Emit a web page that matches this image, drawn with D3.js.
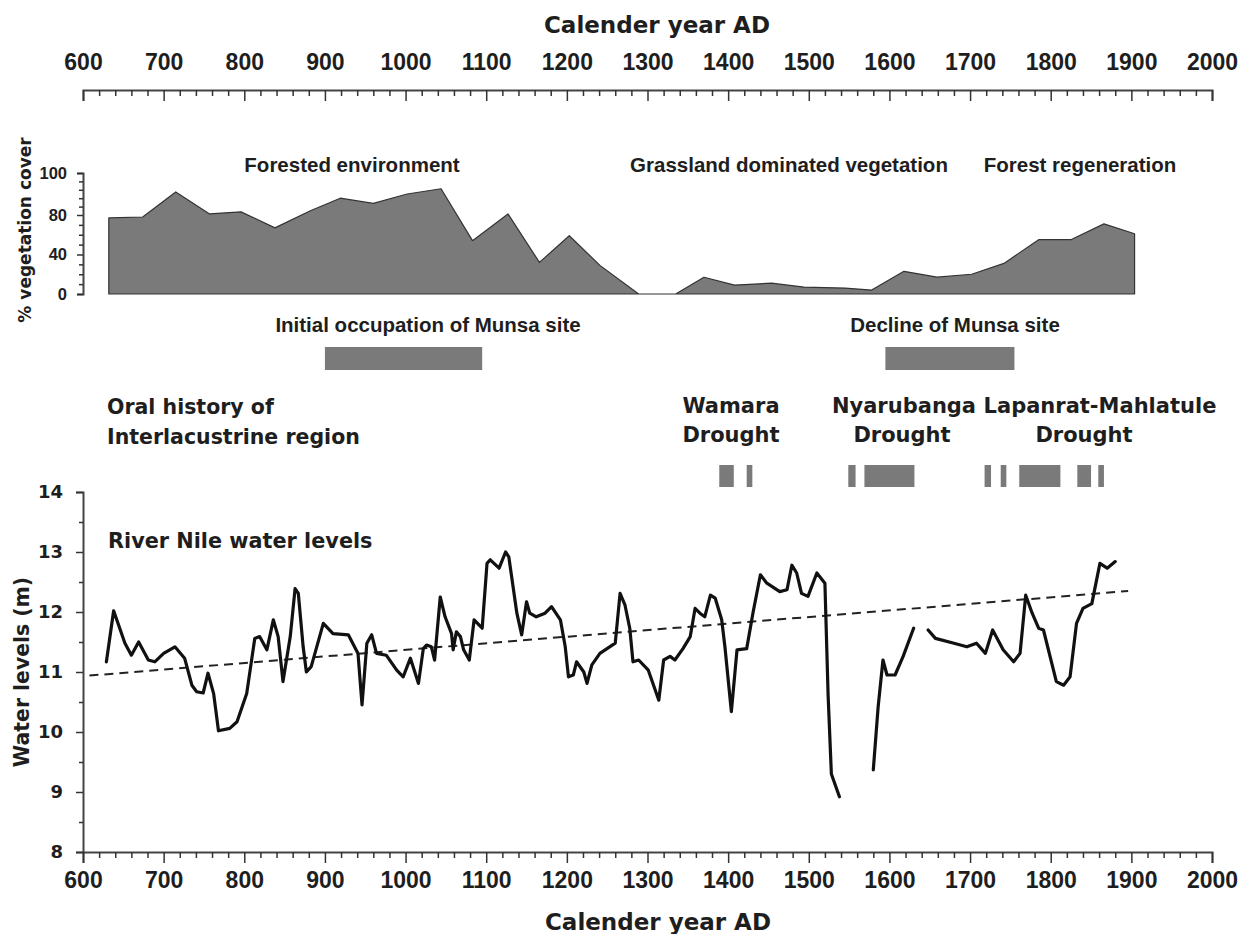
<!DOCTYPE html>
<html>
<head>
<meta charset="utf-8">
<script src="https://cdn.jsdelivr.net/npm/d3@7"></script>
<style>
  body { margin: 0; background: #fff; }
</style>
</head>
<body>
<script>
// Dimensions de la figure
var width = 1240, height = 934;

// Graduations de l'axe des années
var yearTicks = [600, 700, 800, 900, 1000, 1100, 1200, 1300, 1400, 1500, 1600, 1700, 1800, 1900, 2000];

// Couvert végétal (%)
var vegYears = [632, 674, 715, 757, 796, 838, 882, 919, 960, 1002, 1044, 1083, 1127, 1166, 1203, 1241,
                1289, 1335, 1370, 1408, 1454, 1494, 1545, 1578, 1618, 1659, 1702, 1742, 1785, 1825, 1866, 1904];
var vegCover = [77, 78, 91, 80.5, 81.5, 67, 82, 88, 85.5, 90, 92.5, 54, 80.5, 32, 59, 29,
                0, 0, 17, 9, 11, 7, 6, 4, 23, 17, 20, 31, 55, 55, 71, 61];
var vegTicks = [0, 40, 80, 100];

// Périodes du site de Munsa et sécheresses (début, fin)
var munsaPeriods = [[900, 1095], [1595, 1755]];
var droughtPeriods = [[1389, 1407], [1423, 1430], [1549, 1558], [1569, 1631], [1718, 1726],
                      [1738, 1745], [1761, 1812], [1833, 1850], [1859, 1866]];

// Niveaux du Nil (m), null = lacune dans la série
var nileYears = [629, 638, 652, 660, 669, 681, 689, 700, 714, 726, 735, 741, 749, 755, 762, 768, 782, 791,
                 803, 813, 819, 828, 836, 842, 848, 857, 863, 867, 873, 877, 883, 898, 910, 929, 941, 946,
                 952, 958, 964, 976, 989, 997, 1006, 1016, 1022, 1026, 1032, 1036, 1043, 1049, 1057, 1059,
                 1063, 1068, 1072, 1079, 1085, 1095, 1101, 1105, 1116, 1124, 1128, 1138, 1144, 1150, 1154,
                 1162, 1173, 1181, 1192, 1198, 1202, 1208, 1212, 1221, 1225, 1231, 1241, 1260, 1266, 1272,
                 1278, 1282, 1289, 1301, 1314, 1320, 1328, 1334, 1344, 1353, 1359, 1365, 1371, 1378, 1384,
                 1392, 1396, 1404, 1411, 1423, 1431, 1440, 1448, 1464, 1473, 1479, 1485, 1491, 1499, 1510,
                 1520, 1524, 1528, 1538, 1560, 1580, 1586, 1592, 1597, 1607, 1617, 1630, 1640, 1648, 1657,
                 1680, 1696, 1708, 1719, 1728, 1741, 1754, 1762, 1769, 1777, 1785, 1791, 1807, 1816, 1824,
                 1832, 1840, 1851, 1861, 1870, 1880];
var nileLevels = [11.17, 12.02, 11.48, 11.28, 11.50, 11.20, 11.17, 11.31, 11.42, 11.23, 10.78, 10.67, 10.65,
                  10.98, 10.64, 10.02, 10.06, 10.17, 10.64, 11.56, 11.59, 11.37, 11.87, 11.59, 10.84, 11.59,
                  12.39, 12.31, 11.42, 11.00, 11.09, 11.81, 11.64, 11.62, 11.31, 10.45, 11.48, 11.62, 11.31,
                  11.28, 11.03, 10.92, 11.23, 10.81, 11.39, 11.45, 11.42, 11.20, 12.25, 11.92, 11.64, 11.37,
                  11.67, 11.59, 11.37, 11.20, 11.87, 11.73, 12.81, 12.87, 12.73, 13.00, 12.92, 11.98, 11.62,
                  12.17, 11.98, 11.92, 11.98, 12.09, 11.87, 11.42, 10.92, 10.95, 11.17, 11.00, 10.81, 11.12,
                  11.31, 11.48, 12.31, 12.12, 11.73, 11.17, 11.20, 11.03, 10.53, 11.20, 11.26, 11.20, 11.39,
                  11.59, 12.06, 11.98, 11.92, 12.28, 12.23, 11.87, 11.42, 10.34, 11.37, 11.39, 12.00, 12.62,
                  12.48, 12.34, 12.37, 12.78, 12.65, 12.31, 12.26, 12.65, 12.48, 10.60, 9.30, 8.92, null,
                  9.37, 10.42, 11.20, 10.95, 10.95, 11.26, 11.73, null, 11.70, 11.56, 11.48, 11.42, 11.48,
                  11.31, 11.70, 11.37, 11.17, 11.31, 12.28, 11.98, 11.73, 11.70, 10.84, 10.78, 10.92, 11.81,
                  12.06, 12.14, 12.81, 12.73, 12.84];
var nileTicks = [8, 9, 10, 11, 12, 13, 14];

// Tendance linéaire (pointillés)
var trendYears = [608, 1896];
var trendLevels = [10.94, 12.35];

var narrow = "'Liberation Sans', Arial, sans-serif";
var wide = "'DejaVu Sans', Verdana, sans-serif";
var ink = "#1e1e1e";
var grey = "#7a7a7a";

function label(svg, txt, px, py, size, family, anchor) {
    return svg.append("text")
        .attr("x", px).attr("y", py)
        .attr("font-size", size)
        .attr("font-family", family)
        .attr("font-weight", "bold")
        .attr("text-anchor", anchor || "start")
        .attr("fill", ink)
        .text(txt);
}

function styleAxis(g, size, family) {
    g.attr("font-size", size).attr("font-family", family).attr("font-weight", "bold");
    g.selectAll("text").attr("fill", ink);
    g.selectAll("line").attr("stroke", "#333").attr("stroke-width", 1.5);
    g.selectAll(".domain").attr("stroke", "#444").attr("stroke-width", 2);
}

function drawChart() {
    var svg = d3.select("body").append("svg")
        .attr("width", width)
        .attr("height", height);

    svg.append("rect").attr("width", width).attr("height", height).attr("fill", "#fff");

    var x = d3.scaleLinear().domain([600, 2000]).range([83, 1212]);
    var yVeg = d3.scaleLinear().domain([0, 80, 100]).range([294, 215, 173]);
    var yNile = d3.scaleLinear().domain([8, 14]).range([852, 492]);

    var minorYears = d3.range(600, 2001, 20).filter(function (d) { return d % 100 !== 0; });

    // Axe supérieur
    svg.append("g").attr("transform", "translate(0,90)")
        .call(d3.axisBottom(x).tickValues(minorYears).tickSize(6).tickSizeOuter(11).tickFormat(""))
        .call(styleAxis, 23, narrow);
    svg.append("g").attr("transform", "translate(0,90)")
        .call(d3.axisBottom(x).tickValues(yearTicks).tickSize(11).tickFormat(""))
        .call(function (g) { g.select(".domain").remove(); })
        .call(styleAxis, 23, narrow);
    svg.append("g").attr("transform", "translate(0,90)")
        .call(d3.axisTop(x).tickValues(yearTicks).tickSize(0).tickPadding(20).tickFormat(d3.format("d")))
        .call(function (g) { g.select(".domain").remove(); })
        .call(styleAxis, 23, narrow);
    label(svg, "Calender year AD", 657, 33, 23, wide, "middle");

    // Panneau du couvert végétal
    var veg = vegYears.map(function (d, i) { return [d, vegCover[i]]; });
    var area = d3.area()
        .x(function (d) { return x(d[0]); })
        .y0(yVeg(0))
        .y1(function (d) { return yVeg(d[1]); });
    svg.append("path")
        .datum(veg)
        .attr("d", area)
        .attr("fill", grey)
        .attr("stroke", "#333")
        .attr("stroke-width", 1.2)
        .attr("stroke-linejoin", "round");

    svg.append("g").attr("transform", "translate(83,0)")
        .call(d3.axisLeft(yVeg).tickValues([10, 20, 30, 50, 60, 70, 84, 88, 92, 96]).tickSize(4).tickSizeOuter(6).tickFormat(""))
        .call(styleAxis, 16.5, narrow);
    svg.append("g").attr("transform", "translate(83,0)")
        .call(d3.axisLeft(yVeg).tickValues(vegTicks).tickSize(6).tickPadding(10))
        .call(function (g) { g.select(".domain").remove(); })
        .call(styleAxis, 16.5, narrow);
    label(svg, "% vegetation cover", 0, 0, 17, wide, "middle")
        .attr("transform", "translate(31,230) rotate(-90)");

    label(svg, "Forested environment", 352, 172, 20.5, narrow, "middle");
    label(svg, "Grassland dominated vegetation", 789, 172, 20.5, narrow, "middle");
    label(svg, "Forest regeneration", 1080, 172, 20.5, narrow, "middle");

    // Occupation du site de Munsa
    svg.selectAll(".munsa")
        .data(munsaPeriods)
        .enter().append("rect")
        .attr("class", "munsa")
        .attr("x", function (d) { return x(d[0]); })
        .attr("width", function (d) { return x(d[1]) - x(d[0]); })
        .attr("y", 347)
        .attr("height", 23)
        .attr("fill", grey);
    label(svg, "Initial occupation of Munsa site", 428, 332, 20.5, narrow, "middle");
    label(svg, "Decline of Munsa site", 955, 332, 20.5, narrow, "middle");

    // Histoire orale et sécheresses
    label(svg, "Oral history of", 107, 414, 20.5, wide);
    label(svg, "Interlacustrine region", 107, 444, 20.5, wide);
    label(svg, "Wamara", 731, 413, 21, wide, "middle");
    label(svg, "Drought", 731, 442, 21, wide, "middle");
    label(svg, "Nyarubanga", 904, 413, 21, wide, "middle");
    label(svg, "Drought", 902, 442, 21, wide, "middle");
    label(svg, "Lapanrat-Mahlatule", 1100, 413, 21, wide, "middle");
    label(svg, "Drought", 1084, 442, 21, wide, "middle");

    svg.selectAll(".drought")
        .data(droughtPeriods)
        .enter().append("rect")
        .attr("class", "drought")
        .attr("x", function (d) { return x(d[0]); })
        .attr("width", function (d) { return x(d[1]) - x(d[0]); })
        .attr("y", 465)
        .attr("height", 22)
        .attr("fill", grey);

    // Niveaux du Nil
    svg.append("g").attr("transform", "translate(83,0)")
        .call(d3.axisLeft(yNile).tickValues([8.5, 9.5, 10.5, 11.5, 12.5, 13.5]).tickSize(4).tickSizeOuter(7).tickFormat(""))
        .call(styleAxis, 18, wide);
    svg.append("g").attr("transform", "translate(83,0)")
        .call(d3.axisLeft(yNile).tickValues(nileTicks).tickSize(7).tickPadding(13).tickFormat(d3.format("d")))
        .call(function (g) { g.select(".domain").remove(); })
        .call(styleAxis, 18, wide);

    svg.append("g").attr("transform", "translate(0,852)")
        .call(d3.axisBottom(x).tickValues(minorYears).tickSize(6).tickSizeOuter(11).tickFormat(""))
        .call(styleAxis, 23, narrow);
    svg.append("g").attr("transform", "translate(0,852)")
        .call(d3.axisBottom(x).tickValues(yearTicks).tickSize(11).tickPadding(9).tickFormat(d3.format("d")))
        .call(function (g) { g.select(".domain").remove(); })
        .call(styleAxis, 23, narrow);
    label(svg, "Calender year AD", 658, 930, 23, wide, "middle");

    label(svg, "Water levels (m)", 0, 0, 20.4, wide, "middle")
        .attr("transform", "translate(29,672) rotate(-90)");
    label(svg, "River Nile water levels", 108, 548, 20.8, wide);

    var trend = trendYears.map(function (d, i) { return [d, trendLevels[i]]; });
    var line = d3.line()
        .defined(function (d) { return d[1] !== null; })
        .x(function (d) { return x(d[0]); })
        .y(function (d) { return yNile(d[1]); });

    svg.append("path")
        .datum(trend)
        .attr("d", line)
        .attr("fill", "none")
        .attr("stroke", "#222")
        .attr("stroke-width", 2)
        .attr("stroke-dasharray", "9,6");

    var nile = nileYears.map(function (d, i) { return [d, nileLevels[i]]; });
    svg.append("path")
        .datum(nile)
        .attr("d", line)
        .attr("fill", "none")
        .attr("stroke", "#111")
        .attr("stroke-width", 3.2)
        .attr("stroke-linejoin", "round")
        .attr("stroke-linecap", "round");
}

d3.select(window).on("load", drawChart);
</script>
</body>
</html>
